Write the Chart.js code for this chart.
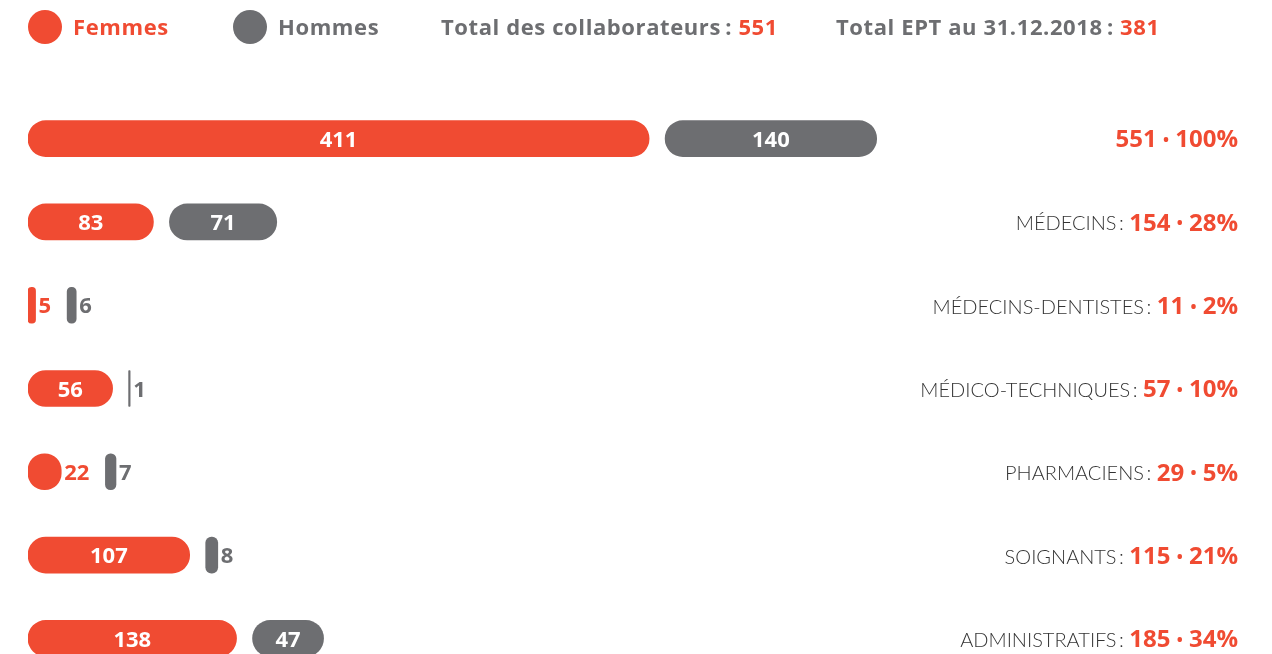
<!DOCTYPE html>
<html>
<head>
<meta charset="utf-8">
<script src="https://cdn.jsdelivr.net/npm/chart.js@4.4.1/dist/chart.umd.min.js"></script>
<style>
  html, body { margin: 0; padding: 0; background: #fff; overflow: hidden; }
  #wrap { position: relative; width: 1272px; height: 680px; }
</style>
</head>
<body>
<div id="wrap"><canvas id="effectifChart"></canvas></div>
<script>
const categories = ['', 'MÉDECINS', 'MÉDECINS-DENTISTES', 'MÉDICO-TECHNIQUES', 'PHARMACIENS', 'SOIGNANTS', 'ADMINISTRATIFS'];
const femmes = [411, 83, 5, 56, 22, 107, 138];
const hommes = [140, 71, 6, 1, 7, 8, 47];
const pourcents = [100, 28, 2, 10, 5, 21, 34];
const totalCollaborateurs = 551;
const totalEPT = 381;

const RED = '#F04B32';
const GREY = '#6D6E71';
const BOLD_FONT = '"Open Sans", Lato, sans-serif';
const LIGHT_FONT = 'Lato, "Open Sans", sans-serif';
const X_MAX = 802;
const PX_PER_UNIT = (1272 - 28 - 32) / X_MAX;
const GAP_PX = 16;
const LABEL_PAD = 3;
const LABEL_FONT = 'bold 22px ' + BOLD_FONT;

// mesurer la largeur des étiquettes placées hors barre
const measureCtx = document.createElement('canvas').getContext('2d');
measureCtx.font = LABEL_FONT;
const isInside = v => v * PX_PER_UNIT >= measureCtx.measureText(String(v)).width + 24;

const femmesRanges = femmes.map(v => [0, v]);
const hommesRanges = femmes.map((f, i) => {
  let startPx = f * PX_PER_UNIT + GAP_PX;
  if (!isInside(f)) startPx += LABEL_PAD + measureCtx.measureText(String(f)).width;
  const start = startPx / PX_PER_UNIT;
  return [start, start + hommes[i]];
});

const barLabels = {
  id: 'barLabels',
  afterDatasetsDraw(chart) {
    const ctx = chart.ctx;
    ctx.save();
    ctx.font = LABEL_FONT;
    ctx.textBaseline = 'middle';
    [femmes, hommes].forEach((values, d) => {
      const meta = chart.getDatasetMeta(d);
      meta.data.forEach((bar, i) => {
        const v = values[i];
        const left = Math.min(bar.x, bar.base);
        const right = Math.max(bar.x, bar.base);
        if (isInside(v)) {
          ctx.fillStyle = '#fff';
          ctx.textAlign = 'center';
          ctx.fillText(String(v), (left + right) / 2, bar.y + 2);
        } else {
          ctx.fillStyle = d === 0 ? RED : GREY;
          ctx.textAlign = 'left';
          ctx.fillText(String(v), right + LABEL_PAD, bar.y + 2);
        }
      });
    });
    ctx.restore();
  }
};

// texte en plusieurs morceaux, aligné à droite
function drawRightPieces(ctx, pieces, rightX, y) {
  let x = rightX;
  for (let k = pieces.length - 1; k >= 0; k--) {
    const [text, font, color] = pieces[k];
    ctx.font = font;
    ctx.fillStyle = color;
    ctx.textAlign = 'right';
    ctx.fillText(text, x, y);
    x -= ctx.measureText(text).width;
  }
}

const sideTexts = {
  id: 'sideTexts',
  afterDraw(chart) {
    const ctx = chart.ctx;
    const yScale = chart.scales.y;
    ctx.save();
    ctx.textBaseline = 'middle';

    // en-tête / légende
    const headY = 27;
    ctx.fillStyle = RED;
    ctx.beginPath(); ctx.arc(45, headY, 17, 0, Math.PI * 2); ctx.fill();
    ctx.fillStyle = GREY;
    ctx.beginPath(); ctx.arc(250, headY, 17, 0, Math.PI * 2); ctx.fill();

    ctx.font = 'bold 22px ' + BOLD_FONT;
    ctx.letterSpacing = '0.6px';
    ctx.textAlign = 'left';
    ctx.fillStyle = RED;
    ctx.fillText('Femmes', 73, headY + 1.5);
    ctx.fillStyle = GREY;
    ctx.fillText('Hommes', 278, headY + 1.5);

    const pieces = [
      [441, 'Total des collaborateurs\u2009: ', String(totalCollaborateurs)],
      [836, 'Total EPT au 31.12.2018\u2009: ', String(totalEPT)]
    ];
    pieces.forEach(([x, label, val]) => {
      ctx.fillStyle = GREY;
      ctx.fillText(label, x, headY + 1.5);
      const w = ctx.measureText(label).width;
      ctx.fillStyle = RED;
      ctx.fillText(val, x + w, headY + 1.5);
    });
    ctx.letterSpacing = '0px';

    // totaux à droite
    const rightX = 1238;
    const valFont = 'bold 24px ' + BOLD_FONT;
    const dotFont = 'bold 16px ' + BOLD_FONT;
    categories.forEach((cat, i) => {
      const y = yScale.getPixelForValue(i) + 2;
      const parts = [];
      if (cat) parts.push([cat + '\u2009: ', '300 20px ' + LIGHT_FONT, '#333333']);
      parts.push([String(femmes[i] + hommes[i]) + ' ', valFont, RED]);
      parts.push(['\u2022', dotFont, RED]);
      parts.push([' ' + pourcents[i] + '%', valFont, RED]);
      drawRightPieces(ctx, parts, rightX, y);
    });
    ctx.restore();
  }
};

new Chart(document.getElementById('effectifChart').getContext('2d'), {
  type: 'bar',
  data: {
    labels: categories,
    datasets: [
      {
        label: 'Femmes',
        data: femmesRanges,
        backgroundColor: RED,
        borderRadius: 18,
        borderSkipped: false,
        barThickness: 36,
        grouped: false
      },
      {
        label: 'Hommes',
        data: hommesRanges,
        backgroundColor: GREY,
        borderRadius: 18,
        borderSkipped: false,
        barThickness: 36,
        grouped: false
      }
    ]
  },
  options: {
    indexAxis: 'y',
    responsive: true,
    maintainAspectRatio: false,
    animation: false,
    layout: {
      padding: { top: 97, left: 28, right: 32, bottom: 0 }
    },
    scales: {
      x: { display: false, min: 0, max: X_MAX },
      y: { display: false }
    },
    plugins: {
      legend: { display: false },
      tooltip: { enabled: false }
    }
  },
  plugins: [barLabels, sideTexts]
});
</script>
</body>
</html>
